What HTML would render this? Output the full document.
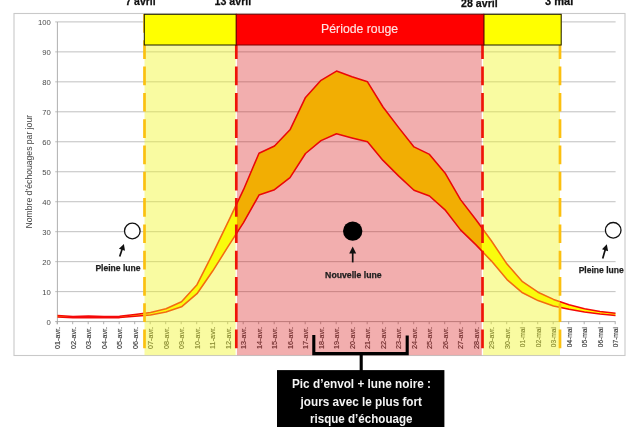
<!DOCTYPE html>
<html lang="fr"><head><meta charset="utf-8"><title>Période rouge - échouages</title>
<style>html,body{margin:0;padding:0;background:#fff;}body{width:640px;height:427px;overflow:hidden;}svg{display:block;font-family:"Liberation Sans", "DejaVu Sans", sans-serif;filter:blur(0.45px);}</style>
</head><body>
<svg width="640" height="427" viewBox="0 0 640 427">
<rect x="0" y="0" width="640" height="427" fill="#ffffff"/>
<rect x="14" y="13.5" width="611" height="342" fill="#ffffff" stroke="#c9c9c9" stroke-width="1.1"/>
<g stroke="#b9b9b9" stroke-width="0.9">
<line x1="55.2" x2="615.6" y1="291.63" y2="291.63"/>
<line x1="55.2" x2="615.6" y1="261.66" y2="261.66"/>
<line x1="55.2" x2="615.6" y1="231.69" y2="231.69"/>
<line x1="55.2" x2="615.6" y1="201.72" y2="201.72"/>
<line x1="55.2" x2="615.6" y1="171.75" y2="171.75"/>
<line x1="55.2" x2="615.6" y1="141.78" y2="141.78"/>
<line x1="55.2" x2="615.6" y1="111.81" y2="111.81"/>
<line x1="55.2" x2="615.6" y1="81.84" y2="81.84"/>
<line x1="55.2" x2="615.6" y1="51.87" y2="51.87"/>
<line x1="55.2" x2="615.6" y1="21.90" y2="21.90"/>
</g>
<g stroke="#a6a6a6" stroke-width="0.9">
<line x1="55.2" x2="615.6" y1="321.60" y2="321.60"/>
<line x1="57.4" x2="57.4" y1="22" y2="324.20"/>
<line x1="57.20" x2="57.20" y1="321.60" y2="324.20"/>
<line x1="72.70" x2="72.70" y1="321.60" y2="324.20"/>
<line x1="88.20" x2="88.20" y1="321.60" y2="324.20"/>
<line x1="103.70" x2="103.70" y1="321.60" y2="324.20"/>
<line x1="119.20" x2="119.20" y1="321.60" y2="324.20"/>
<line x1="134.70" x2="134.70" y1="321.60" y2="324.20"/>
<line x1="150.20" x2="150.20" y1="321.60" y2="324.20"/>
<line x1="165.70" x2="165.70" y1="321.60" y2="324.20"/>
<line x1="181.20" x2="181.20" y1="321.60" y2="324.20"/>
<line x1="196.70" x2="196.70" y1="321.60" y2="324.20"/>
<line x1="212.20" x2="212.20" y1="321.60" y2="324.20"/>
<line x1="227.70" x2="227.70" y1="321.60" y2="324.20"/>
<line x1="243.20" x2="243.20" y1="321.60" y2="324.20"/>
<line x1="258.70" x2="258.70" y1="321.60" y2="324.20"/>
<line x1="274.20" x2="274.20" y1="321.60" y2="324.20"/>
<line x1="289.70" x2="289.70" y1="321.60" y2="324.20"/>
<line x1="305.20" x2="305.20" y1="321.60" y2="324.20"/>
<line x1="320.70" x2="320.70" y1="321.60" y2="324.20"/>
<line x1="336.20" x2="336.20" y1="321.60" y2="324.20"/>
<line x1="351.70" x2="351.70" y1="321.60" y2="324.20"/>
<line x1="367.20" x2="367.20" y1="321.60" y2="324.20"/>
<line x1="382.70" x2="382.70" y1="321.60" y2="324.20"/>
<line x1="398.20" x2="398.20" y1="321.60" y2="324.20"/>
<line x1="413.70" x2="413.70" y1="321.60" y2="324.20"/>
<line x1="429.20" x2="429.20" y1="321.60" y2="324.20"/>
<line x1="444.70" x2="444.70" y1="321.60" y2="324.20"/>
<line x1="460.20" x2="460.20" y1="321.60" y2="324.20"/>
<line x1="475.70" x2="475.70" y1="321.60" y2="324.20"/>
<line x1="491.20" x2="491.20" y1="321.60" y2="324.20"/>
<line x1="506.70" x2="506.70" y1="321.60" y2="324.20"/>
<line x1="522.20" x2="522.20" y1="321.60" y2="324.20"/>
<line x1="537.70" x2="537.70" y1="321.60" y2="324.20"/>
<line x1="553.20" x2="553.20" y1="321.60" y2="324.20"/>
<line x1="568.70" x2="568.70" y1="321.60" y2="324.20"/>
<line x1="584.20" x2="584.20" y1="321.60" y2="324.20"/>
<line x1="599.70" x2="599.70" y1="321.60" y2="324.20"/>
<line x1="615.20" x2="615.20" y1="321.60" y2="324.20"/>
</g>
<polygon points="57.5,315.6 73.0,316.5 88.5,315.9 104.0,316.5 119.5,316.2 135.0,314.4 150.5,312.6 166.0,308.7 181.5,301.8 197.0,284.7 212.5,254.2 228.0,222.1 243.5,189.7 259.0,153.2 274.5,146.0 290.0,129.8 305.5,97.4 321.0,80.3 336.5,71.1 352.0,76.7 367.5,81.8 383.0,107.0 398.5,127.4 414.0,146.9 429.5,154.4 445.0,172.9 460.5,199.6 476.0,219.7 491.5,241.0 507.0,264.1 522.5,281.7 538.0,292.2 553.5,299.4 569.0,304.8 584.5,308.7 600.0,311.4 615.5,313.2 615.5,315.6 600.0,314.1 584.5,312.0 569.0,309.3 553.5,306.0 538.0,300.6 522.5,292.8 507.0,279.6 491.5,261.1 476.0,244.9 460.5,229.9 445.0,209.8 429.5,196.0 414.0,190.3 398.5,175.9 383.0,160.4 367.5,141.8 352.0,137.9 336.5,133.7 321.0,140.6 305.5,153.5 290.0,177.7 274.5,189.7 259.0,195.1 243.5,222.7 228.0,246.7 212.5,271.3 197.0,293.7 181.5,306.8 166.0,312.0 150.5,314.9 135.0,316.2 119.5,317.6 104.0,317.7 88.5,317.4 73.0,317.7 57.5,317.1" fill="#ffff00"/>
<polyline points="57.5,315.6 73.0,316.5 88.5,315.9 104.0,316.5 119.5,316.2 135.0,314.4 150.5,312.6 166.0,308.7 181.5,301.8 197.0,284.7 212.5,254.2 228.0,222.1 243.5,189.7 259.0,153.2 274.5,146.0 290.0,129.8 305.5,97.4 321.0,80.3 336.5,71.1 352.0,76.7 367.5,81.8 383.0,107.0 398.5,127.4 414.0,146.9 429.5,154.4 445.0,172.9 460.5,199.6 476.0,219.7 491.5,241.0 507.0,264.1 522.5,281.7 538.0,292.2 553.5,299.4 569.0,304.8 584.5,308.7 600.0,311.4 615.5,313.2" fill="none" stroke="#f40808" stroke-width="1.55" stroke-linejoin="round"/>
<polyline points="57.5,317.1 73.0,317.7 88.5,317.4 104.0,317.7 119.5,317.6 135.0,316.2 150.5,314.9 166.0,312.0 181.5,306.8 197.0,293.7 212.5,271.3 228.0,246.7 243.5,222.7 259.0,195.1 274.5,189.7 290.0,177.7 305.5,153.5 321.0,140.6 336.5,133.7 352.0,137.9 367.5,141.8 383.0,160.4 398.5,175.9 414.0,190.3 429.5,196.0 445.0,209.8 460.5,229.9 476.0,244.9 491.5,261.1 507.0,279.6 522.5,292.8 538.0,300.6 553.5,306.0 569.0,309.3 584.5,312.0 600.0,314.1 615.5,315.6" fill="none" stroke="#f40808" stroke-width="1.55" stroke-linejoin="round"/>
<g font-size="7.7" fill="#4a4a4a" text-anchor="end">
<text x="50.8" y="324.50">0</text>
<text x="50.8" y="294.53">10</text>
<text x="50.8" y="264.56">20</text>
<text x="50.8" y="234.59">30</text>
<text x="50.8" y="204.62">40</text>
<text x="50.8" y="174.65">50</text>
<text x="50.8" y="144.68">60</text>
<text x="50.8" y="114.71">70</text>
<text x="50.8" y="84.74">80</text>
<text x="50.8" y="54.77">90</text>
<text x="50.8" y="24.80">100</text>
</g>
<text transform="translate(32.3,171.7) rotate(-90)" font-size="8.2" fill="#444444" text-anchor="middle" textLength="113.5" lengthAdjust="spacingAndGlyphs">Nombre d’échouages par jour</text>
<g font-size="6.6" fill="#404040" stroke="#404040" stroke-width="0.15" text-anchor="end">
<text transform="translate(60.40,327.0) rotate(-90)" textLength="22.0" lengthAdjust="spacingAndGlyphs">01-avr.</text>
<text transform="translate(75.90,327.0) rotate(-90)" textLength="22.0" lengthAdjust="spacingAndGlyphs">02-avr.</text>
<text transform="translate(91.40,327.0) rotate(-90)" textLength="22.0" lengthAdjust="spacingAndGlyphs">03-avr.</text>
<text transform="translate(106.90,327.0) rotate(-90)" textLength="22.0" lengthAdjust="spacingAndGlyphs">04-avr.</text>
<text transform="translate(122.40,327.0) rotate(-90)" textLength="22.0" lengthAdjust="spacingAndGlyphs">05-avr.</text>
<text transform="translate(137.90,327.0) rotate(-90)" textLength="22.0" lengthAdjust="spacingAndGlyphs">06-avr.</text>
<text transform="translate(153.40,327.0) rotate(-90)" textLength="22.0" lengthAdjust="spacingAndGlyphs">07-avr.</text>
<text transform="translate(168.90,327.0) rotate(-90)" textLength="22.0" lengthAdjust="spacingAndGlyphs">08-avr.</text>
<text transform="translate(184.40,327.0) rotate(-90)" textLength="22.0" lengthAdjust="spacingAndGlyphs">09-avr.</text>
<text transform="translate(199.90,327.0) rotate(-90)" textLength="22.0" lengthAdjust="spacingAndGlyphs">10-avr.</text>
<text transform="translate(215.40,327.0) rotate(-90)" textLength="22.0" lengthAdjust="spacingAndGlyphs">11-avr.</text>
<text transform="translate(230.90,327.0) rotate(-90)" textLength="22.0" lengthAdjust="spacingAndGlyphs">12-avr.</text>
<text transform="translate(246.40,327.0) rotate(-90)" textLength="22.0" lengthAdjust="spacingAndGlyphs">13-avr.</text>
<text transform="translate(261.90,327.0) rotate(-90)" textLength="22.0" lengthAdjust="spacingAndGlyphs">14-avr.</text>
<text transform="translate(277.40,327.0) rotate(-90)" textLength="22.0" lengthAdjust="spacingAndGlyphs">15-avr.</text>
<text transform="translate(292.90,327.0) rotate(-90)" textLength="22.0" lengthAdjust="spacingAndGlyphs">16-avr.</text>
<text transform="translate(308.40,327.0) rotate(-90)" textLength="22.0" lengthAdjust="spacingAndGlyphs">17-avr.</text>
<text transform="translate(323.90,327.0) rotate(-90)" textLength="22.0" lengthAdjust="spacingAndGlyphs">18-avr.</text>
<text transform="translate(339.40,327.0) rotate(-90)" textLength="22.0" lengthAdjust="spacingAndGlyphs">19-avr.</text>
<text transform="translate(354.90,327.0) rotate(-90)" textLength="22.0" lengthAdjust="spacingAndGlyphs">20-avr.</text>
<text transform="translate(370.40,327.0) rotate(-90)" textLength="22.0" lengthAdjust="spacingAndGlyphs">21-avr.</text>
<text transform="translate(385.90,327.0) rotate(-90)" textLength="22.0" lengthAdjust="spacingAndGlyphs">22-avr.</text>
<text transform="translate(401.40,327.0) rotate(-90)" textLength="22.0" lengthAdjust="spacingAndGlyphs">23-avr.</text>
<text transform="translate(416.90,327.0) rotate(-90)" textLength="22.0" lengthAdjust="spacingAndGlyphs">24-avr.</text>
<text transform="translate(432.40,327.0) rotate(-90)" textLength="22.0" lengthAdjust="spacingAndGlyphs">25-avr.</text>
<text transform="translate(447.90,327.0) rotate(-90)" textLength="22.0" lengthAdjust="spacingAndGlyphs">26-avr.</text>
<text transform="translate(463.40,327.0) rotate(-90)" textLength="22.0" lengthAdjust="spacingAndGlyphs">27-avr.</text>
<text transform="translate(478.90,327.0) rotate(-90)" textLength="22.0" lengthAdjust="spacingAndGlyphs">28-avr.</text>
<text transform="translate(494.40,327.0) rotate(-90)" textLength="22.0" lengthAdjust="spacingAndGlyphs">29-avr.</text>
<text transform="translate(509.90,327.0) rotate(-90)" textLength="22.0" lengthAdjust="spacingAndGlyphs">30-avr.</text>
<text transform="translate(525.40,327.0) rotate(-90)" textLength="20.2" lengthAdjust="spacingAndGlyphs">01-mai</text>
<text transform="translate(540.90,327.0) rotate(-90)" textLength="20.2" lengthAdjust="spacingAndGlyphs">02-mai</text>
<text transform="translate(556.40,327.0) rotate(-90)" textLength="20.2" lengthAdjust="spacingAndGlyphs">03-mai</text>
<text transform="translate(571.90,327.0) rotate(-90)" textLength="20.2" lengthAdjust="spacingAndGlyphs">04-mai</text>
<text transform="translate(587.40,327.0) rotate(-90)" textLength="20.2" lengthAdjust="spacingAndGlyphs">05-mai</text>
<text transform="translate(602.90,327.0) rotate(-90)" textLength="20.2" lengthAdjust="spacingAndGlyphs">06-mai</text>
<text transform="translate(618.40,327.0) rotate(-90)" textLength="20.2" lengthAdjust="spacingAndGlyphs">07-mai</text>
</g>
<rect x="144.5" y="45" width="91.1" height="310.2" fill="rgb(240,246,30)" fill-opacity="0.42"/>
<rect x="483.1" y="45" width="76.9" height="310.2" fill="rgb(240,246,30)" fill-opacity="0.42"/>
<rect x="236.9" y="45" width="244.9" height="310.2" fill="rgb(215,10,10)" fill-opacity="0.33"/>
<line x1="144.50" x2="144.50" y1="14" y2="355" stroke="#fbc010" stroke-width="2.7" stroke-dasharray="18.7 7.6"/>
<line x1="560.00" x2="560.00" y1="14" y2="355" stroke="#fbc010" stroke-width="2.7" stroke-dasharray="18.7 7.6"/>
<line x1="236.30" x2="236.30" y1="14" y2="355" stroke="#ee1408" stroke-width="2.7" stroke-dasharray="18.7 7.6"/>
<line x1="482.50" x2="482.50" y1="14" y2="355" stroke="#ee1408" stroke-width="2.7" stroke-dasharray="18.7 7.6"/>
<rect x="144.3" y="14.3" width="92" height="30.7" fill="#ffff00" stroke="#1a1a00" stroke-width="1"/>
<rect x="483.8" y="14.3" width="77.4" height="30.7" fill="#ffff00" stroke="#1a1a00" stroke-width="1"/>
<rect x="236.3" y="14.3" width="247.5" height="30.7" fill="#ff0000" stroke="#7a0000" stroke-width="1"/>
<text x="359.6" y="32.6" font-size="12.3" fill="#ffe2e2" stroke="#ffe2e2" stroke-width="0.15" text-anchor="middle" textLength="77" lengthAdjust="spacingAndGlyphs">Période rouge</text>
<circle cx="132.3" cy="231" r="7.8" fill="#ffffff" stroke="#111111" stroke-width="1.3"/>
<circle cx="613.2" cy="230.3" r="7.8" fill="#ffffff" stroke="#111111" stroke-width="1.3"/>
<circle cx="352.7" cy="231.1" r="9.7" fill="#000000"/>
<line x1="119.70" y1="256.50" x2="122.26" y2="248.83" stroke="#111111" stroke-width="1.7"/>
<polygon points="123.90,243.90 124.98,250.79 118.90,248.77" fill="#111111"/>
<line x1="602.70" y1="258.40" x2="605.35" y2="249.29" stroke="#111111" stroke-width="1.7"/>
<polygon points="606.80,244.30 608.14,251.15 602.00,249.36" fill="#111111"/>
<line x1="352.70" y1="262.40" x2="352.70" y2="252.50" stroke="#111111" stroke-width="1.7"/>
<polygon points="352.70,246.50 356.20,253.50 349.20,253.50" fill="#111111"/>
<g font-weight="bold" fill="#1e1e1e" font-size="8.3" stroke="#1e1e1e" stroke-width="0.25">
<text x="95.4" y="271" textLength="45.2" lengthAdjust="spacingAndGlyphs">Pleine lune</text>
<text x="578.7" y="272.7" textLength="45" lengthAdjust="spacingAndGlyphs">Pleine lune</text>
<text x="325.1" y="277.7" textLength="56.6" lengthAdjust="spacingAndGlyphs">Nouvelle lune</text>
</g>
<path d="M313.8 335 V353.6 H407.2 V335.4 M361.2 353.6 V371" fill="none" stroke="#000000" stroke-width="3.1" stroke-linejoin="miter"/>
<rect x="277" y="370.1" width="167.4" height="60" fill="#000000"/>
<g font-weight="bold" fill="#f4f4f4" font-size="13.1">
<text x="292" y="388" textLength="139" lengthAdjust="spacingAndGlyphs">Pic d’envol + lune noire :</text>
<text x="300.6" y="406.3" textLength="121.4" lengthAdjust="spacingAndGlyphs">jours avec le plus fort</text>
<text x="310" y="423.2" textLength="102.5" lengthAdjust="spacingAndGlyphs">risque d’échouage</text>
</g>
<g font-weight="bold" fill="#111111" font-size="10.3" stroke="#111111" stroke-width="0.25">
<text x="125.4" y="5.2" textLength="30.2" lengthAdjust="spacingAndGlyphs">7 avril</text>
<text x="214.5" y="5.1" textLength="36.8" lengthAdjust="spacingAndGlyphs">13 avril</text>
<text x="461.1" y="6.8" textLength="36.6" lengthAdjust="spacingAndGlyphs">28 avril</text>
<text x="545.0" y="5.1" textLength="28.3" lengthAdjust="spacingAndGlyphs">3 mai</text>
</g>
</svg>
</body></html>
